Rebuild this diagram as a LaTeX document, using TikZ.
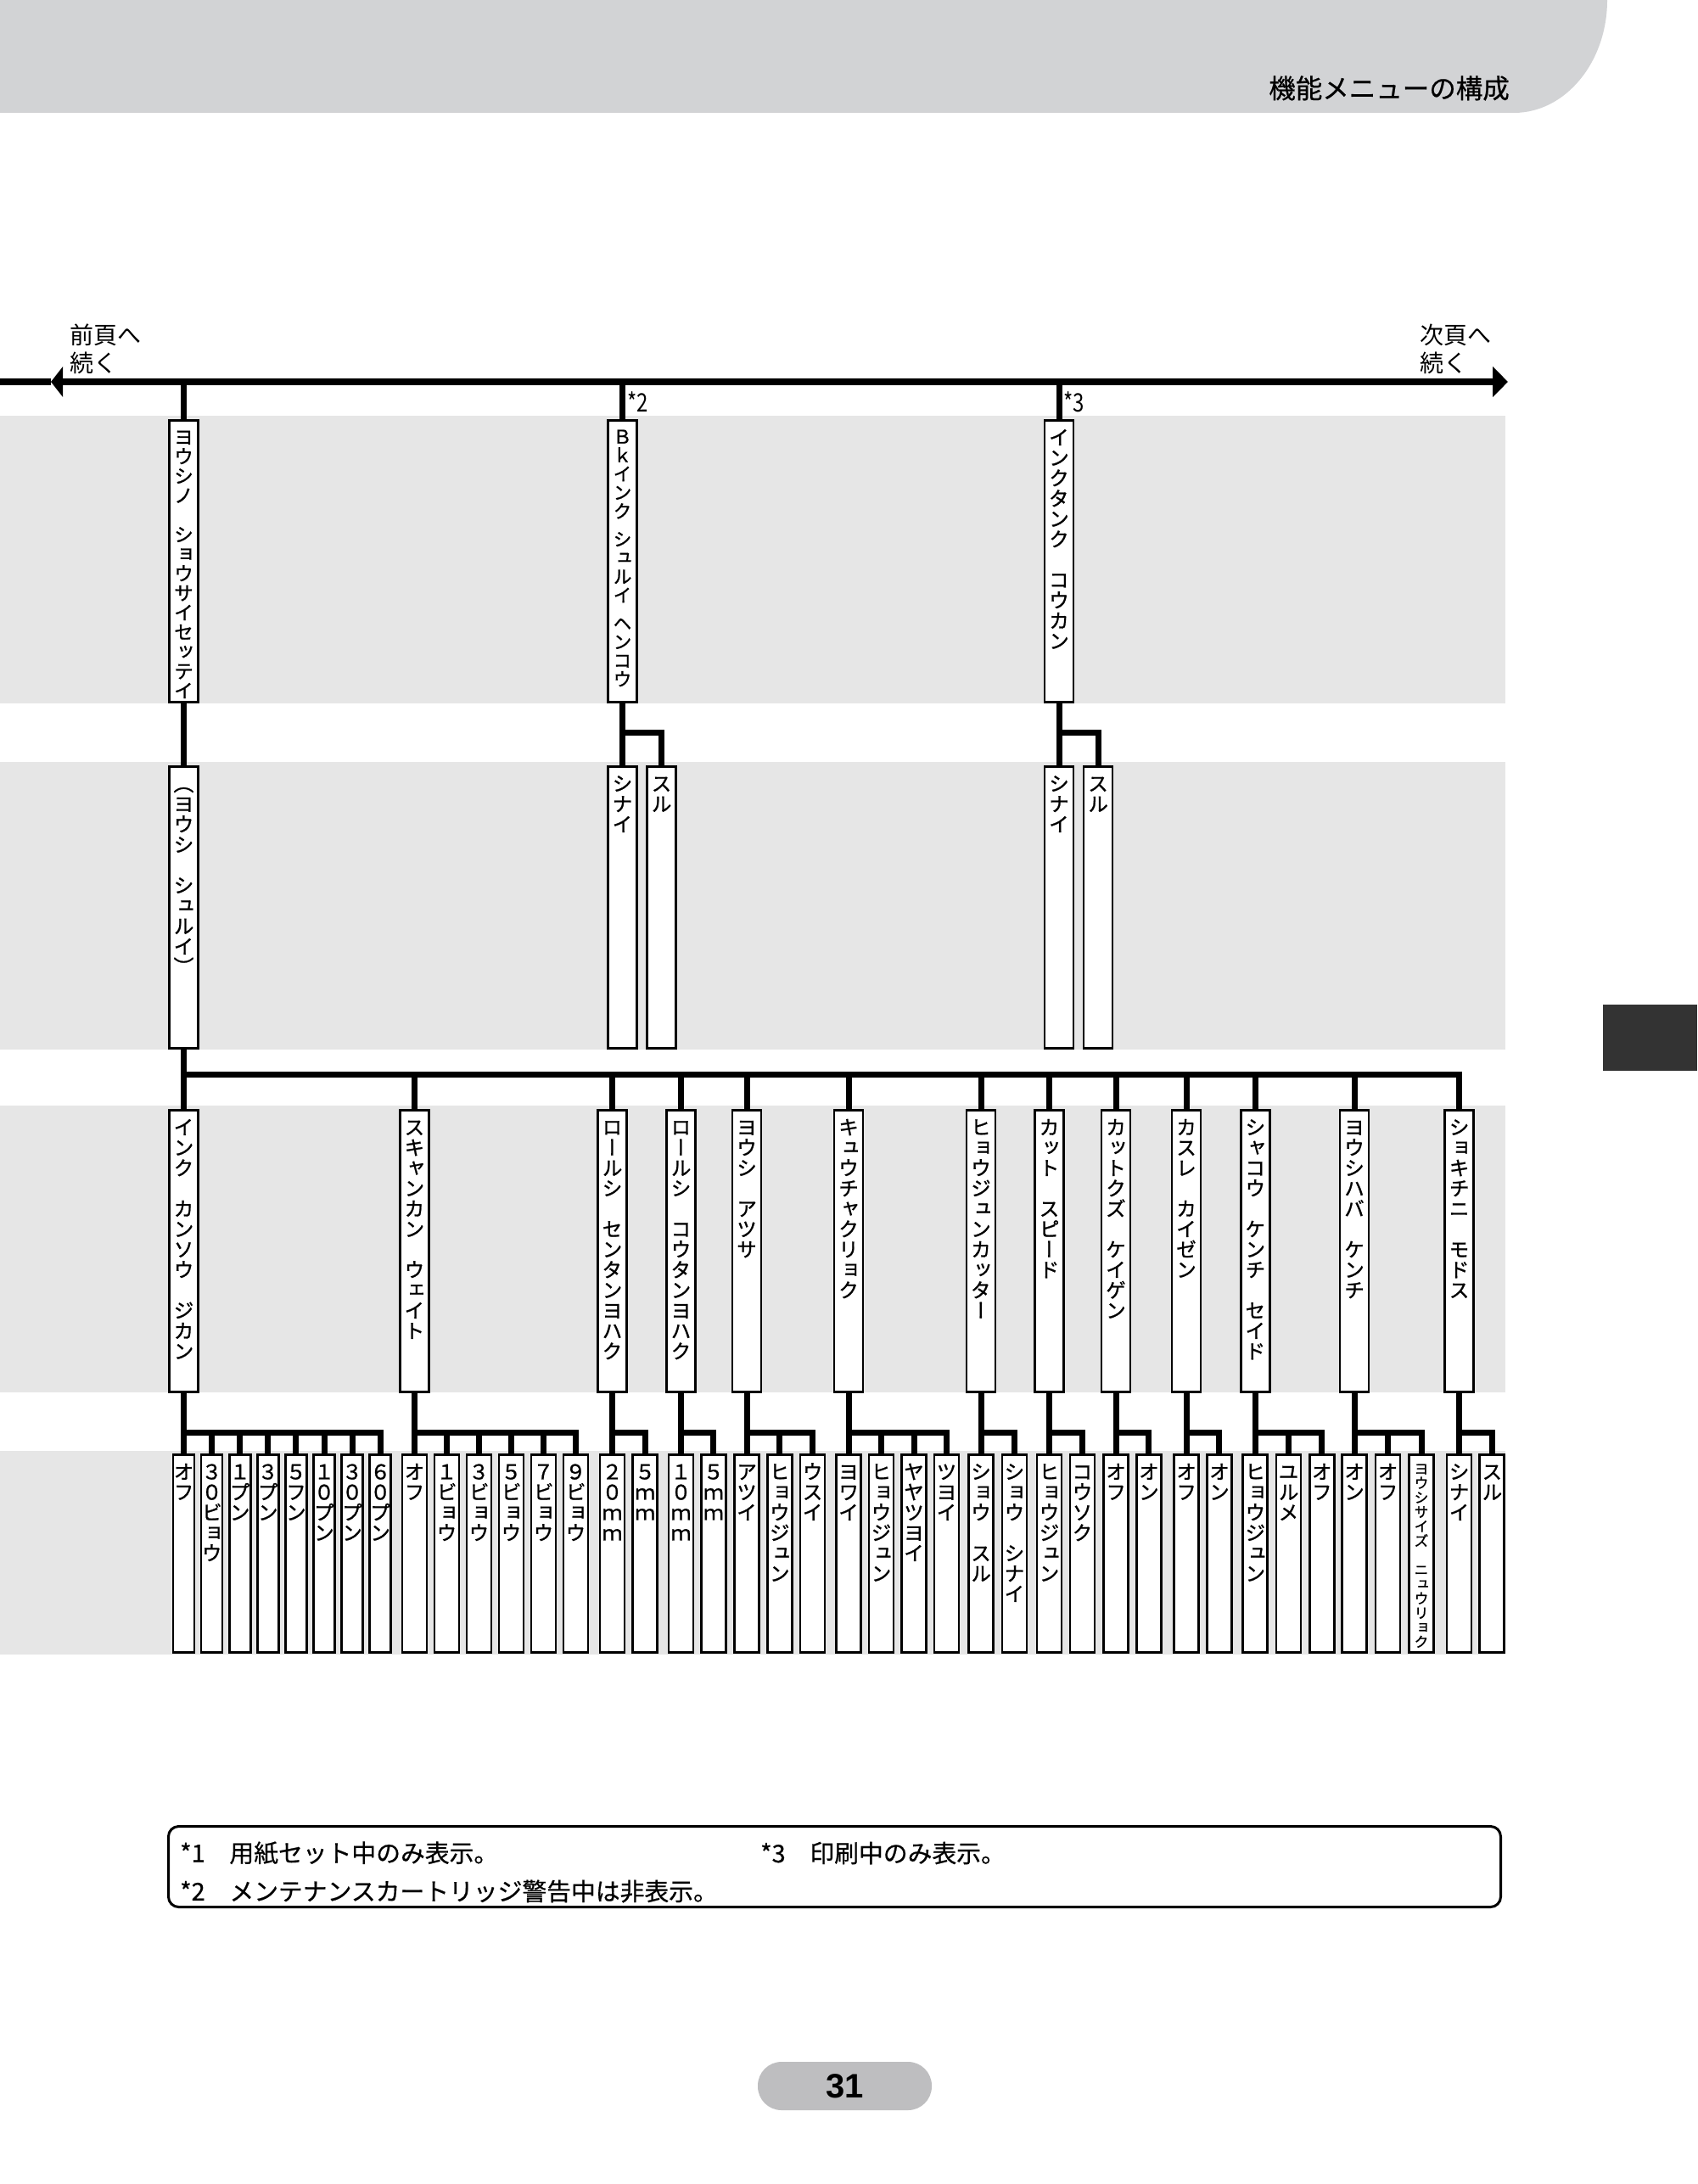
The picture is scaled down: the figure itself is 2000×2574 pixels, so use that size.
\documentclass[tikz,border=0pt]{standalone}
\usepackage{fontspec}
\usepackage{graphicx}
\usetikzlibrary{trees,arrows.meta}
\newfontfamily\jpfont{Noto Sans CJK JP}
\newfontfamily\notefont[FakeBold=0.6]{Noto Sans CJK JP}
\newfontfamily\tatefont[RawFeature=+vert, FakeBold=1]{Noto Sans CJK JP}
\newfontfamily\numfont{Liberation Sans}
\definecolor{headgray}{RGB}{210,211,213}
\definecolor{bandgray}{RGB}{230,230,230}
\definecolor{tabgray}{RGB}{51,51,51}
\definecolor{pagegray}{RGB}{190,190,192}
\def\tatecol#1{%
  \ifx\relax#1\else
    \ifx~#1\kern.5em\else
      \hbox to1em{\hss\vrule height.88em depth.12em width0pt\relax#1\hss}%
    \fi
    \expandafter\tatecol
  \fi}
\newcommand\vt[2][24]{\vbox to\boxh{\vskip8pt
  \fontsize{#1pt}{#1pt}\tatefont\offinterlineskip\tatecol#2\relax\vss}}

\begin{document}
\begin{tikzpicture}[x=1pt, y=-1pt,
    stem/.style={line width=7pt},
    edge from parent/.style={draw, line width=7pt},
    item/.style={draw, line width=2.7pt, fill=white, anchor=north, inner sep=0pt,
      minimum width=34pt, execute at begin node={\def\boxh{332pt}}},
    leaf/.style={item, minimum width=29pt, execute at begin node={\def\boxh{233pt}}},
    slimleaf/.style={leaf, minimum width=25pt},
    kids/.style 2 args={growth parent anchor=north,
      grow via three points={one child at (0,#1) and two children at (0,#1) and (#2,#1)}},
    fork/.style={edge from parent path={(\tikzparentnode.south) -- ++(0,#1) -| (\tikzchildnode.north)}},
    jp/.style={font=\fontsize{#1pt}{#1pt}\jpfont, inner sep=0pt},
    note/.style={font=\fontsize{28.8pt}{28.8pt}\notefont, inner sep=0pt, anchor=west}]
  \useasboundingbox (0,0) rectangle (2000,2574);

  \fill[headgray] (0,0) -- (1894,0) .. controls (1894,73) and (1845,133) .. (1784,133) -- (0,133) -- cycle;
  \node[font=\fontsize{31.5pt}{31.5pt}\notefont, inner sep=0pt, anchor=east] (title) at (1779,104) {機能メニューの構成};
  \fill[tabgray] (1889,1184) rectangle (2000,1262);

  \fill[bandgray] (0,490) rectangle (1774,829);
  \fill[bandgray] (0,898) rectangle (1774,1237);
  \fill[bandgray] (0,1303) rectangle (1774,1641);
  \fill[bandgray] (0,1710) rectangle (1774,1950);

  \coordinate (west) at (0,450);
  \coordinate (back) at (60,450);
  \coordinate (east) at (1777,450);
  \draw[line width=8pt, {Triangle[length=14pt,width=35pt]}-{Triangle[length=18pt,width=35pt]}] (back) -- (east);
  \draw[line width=8pt] (back) -- (west);
  \node[jp=28, font=\fontsize{28pt}{33pt}\jpfont, align=left, anchor=west] (prev) at (82,411.5) {前頁へ\\続く};
  \node[jp=28, font=\fontsize{28pt}{33pt}\jpfont, align=left, anchor=west] (next) at (1673,411.5) {次頁へ\\続く};

  \node[item] (paper) at (216.5,494) {\vt[23]{ヨウシノ　ショウサイセッテイ}}
    [kids={408}{46}, fork=35, every child node/.style=item]
    child {node (kind) {\vt{（ヨウシ　シュルイ）}}};
  \node[item] (bkink) at (733.5,494) {\vt[22]{Ｂｋインク~シュルイ~ヘンコウ}}
    [kids={408}{46}, fork=35, every child node/.style=item]
    child {node {\vt{シナイ}}}
    child {node {\vt{スル}}};
  \node[item] (tank) at (1248,494) {\vt{インクタンク　コウカン}}
    [kids={408}{46}, fork=35, every child node/.style=item]
    child {node {\vt{シナイ}}}
    child {node {\vt{スル}}};
  \draw[stem] (paper.north) -- (paper.north |- west);
  \draw[stem] (bkink.north) -- (bkink.north |- west);
  \draw[stem] (tank.north) -- (tank.north |- west);
  \node[jp=30, anchor=west] (star2) at (739,474) {\scalebox{.8}[1]{*2}};
  \node[jp=30, anchor=west] (star3) at (1253,474) {\scalebox{.8}[1]{*3}};

  \node[item] (dry) at (216.5,1307) {\vt{インク　カンソウ　ジカン}}
    [kids={406}{33.1}, fork=47, every child node/.style=slimleaf]
    child {node {\vt{オフ}}}
    child {node {\vt{３０ビョウ}}}
    child {node {\vt{１プン}}}
    child {node {\vt{３プン}}}
    child {node {\vt{５フン}}}
    child {node {\vt{１０プン}}}
    child {node {\vt{３０プン}}}
    child {node {\vt{６０プン}}};
  \node[item] (scan) at (488.4,1307) {\vt{スキャンカン　ウェイト}}
    [kids={406}{38}, fork=47, every child node/.style=leaf]
    child {node {\vt{オフ}}}
    child {node {\vt{１ビョウ}}}
    child {node {\vt{３ビョウ}}}
    child {node {\vt{５ビョウ}}}
    child {node {\vt{７ビョウ}}}
    child {node {\vt{９ビョウ}}};
  \node[item] (lead) at (721.5,1307) {\vt{ロールシ　センタンヨハク}}
    [kids={406}{38.7}, fork=47, every child node/.style=leaf]
    child {node {\vt{２０ｍｍ}}}
    child {node {\vt{５ｍｍ}}};
  \node[item] (trail) at (802.5,1307) {\vt{ロールシ　コウタンヨハク}}
    [kids={406}{38.4}, fork=47, every child node/.style=leaf]
    child {node {\vt{１０ｍｍ}}}
    child {node {\vt{５ｍｍ}}};
  \node[item] (thick) at (880,1307) {\vt{ヨウシ　アツサ}}
    [kids={406}{38.8}, fork=47, every child node/.style=leaf]
    child {node {\vt{アツイ}}}
    child {node {\vt{ヒョウジュン}}}
    child {node {\vt{ウスイ}}};
  \node[item] (suction) at (1000,1307) {\vt{キュウチャクリョク}}
    [kids={406}{38.5}, fork=47, every child node/.style=leaf]
    child {node {\vt{ヨワイ}}}
    child {node {\vt{ヒョウジュン}}}
    child {node {\vt{ヤヤツヨイ}}}
    child {node {\vt{ツヨイ}}};
  \node[item] (cutter) at (1156,1307) {\vt{ヒョウジュンカッター}}
    [kids={406}{39.4}, fork=47, every child node/.style=leaf]
    child {node {\vt{ショウ　スル}}}
    child {node {\vt{ショウ　シナイ}}};
  \node[item] (cutspeed) at (1236.5,1307) {\vt{カット　スピード}}
    [kids={406}{39}, fork=47, every child node/.style=leaf]
    child {node {\vt{ヒョウジュン}}}
    child {node {\vt{コウソク}}};
  \node[item] (dust) at (1315,1307) {\vt{カットクズ　ケイゲン}}
    [kids={406}{38.9}, fork=47, every child node/.style=leaf]
    child {node {\vt{オフ}}}
    child {node {\vt{オン}}};
  \node[item] (fade) at (1398,1307) {\vt{カスレ　カイゼン}}
    [kids={406}{38.9}, fork=47, every child node/.style=leaf]
    child {node {\vt{オフ}}}
    child {node {\vt{オン}}};
  \node[item] (skew) at (1479.3,1307) {\vt{シャコウ　ケンチ　セイド}}
    [kids={406}{39.2}, fork=47, every child node/.style=leaf]
    child {node {\vt{ヒョウジュン}}}
    child {node {\vt{ユルメ}}}
    child {node {\vt{オフ}}};
  \node[item] (width) at (1596,1307) {\vt{ヨウシハバ　ケンチ}}
    [kids={406}{39.5}, fork=47, every child node/.style=leaf]
    child {node {\vt{オン}}}
    child {node {\vt{オフ}}}
    child {node {\vt[17]{ヨウシサイズ　ニュウリョク}}};
  \node[item] (reset) at (1719.6,1307) {\vt{ショキチニ　モドス}}
    [kids={406}{38.7}, fork=47, every child node/.style=leaf]
    child {node {\vt{シナイ}}}
    child {node {\vt{スル}}};

  \coordinate (bar) at ([yshift=-30pt]kind.south);
  \draw[stem] (kind.south) -- (dry.north);
  \draw[stem] (bar) -| (scan.north) (bar) -| (lead.north) (bar) -| (trail.north)
    (bar) -| (thick.north) (bar) -| (suction.north) (bar) -| (cutter.north)
    (bar) -| (cutspeed.north) (bar) -| (dust.north) (bar) -| (fade.north)
    (bar) -| (skew.north) (bar) -| (width.north) (bar) -| (reset.north);

  \node[draw, line width=3pt, rounded corners=12pt, minimum width=1570pt, minimum height=95pt, inner sep=0pt] (notes) at (983.5,2200) {};
  \node[note] (note1) at (212,2184) {*1　用紙セット中のみ表示。};
  \node[note] (note3) at (896,2184) {*3　印刷中のみ表示。};
  \node[note] (note2) at (212,2229) {*2　メンテナンスカートリッジ警告中は非表示。};

  \node[fill=pagegray, rounded corners=28pt, minimum width=205pt, minimum height=57pt, inner sep=0pt,
    font=\fontsize{40pt}{40pt}\numfont\bfseries] (page) at (995.5,2458.5) {31};
\end{tikzpicture}
\end{document}
